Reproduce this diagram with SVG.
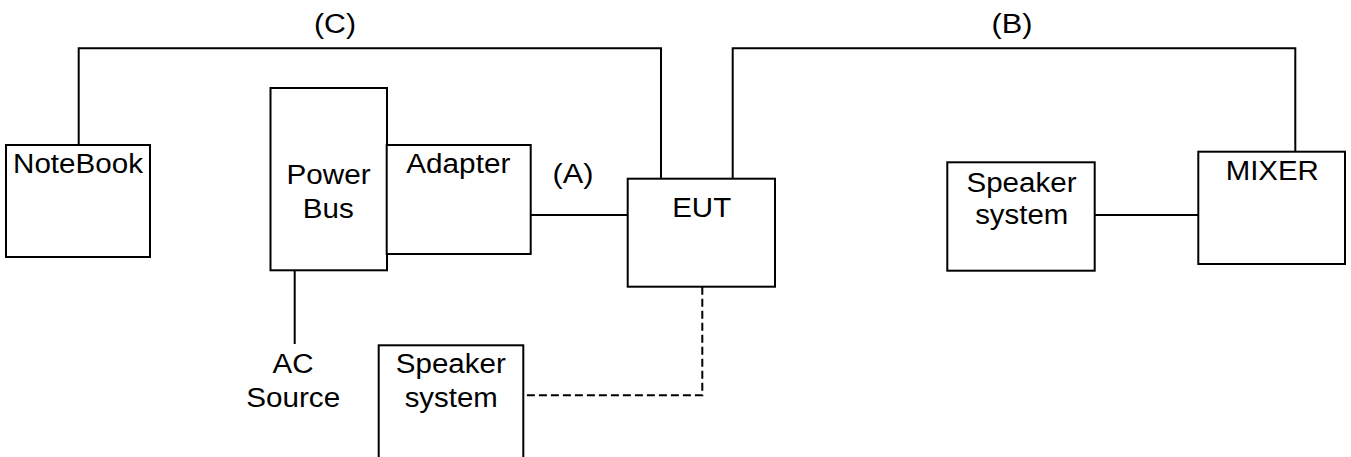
<svg xmlns="http://www.w3.org/2000/svg" width="1351" height="457" viewBox="0 0 1351 457">
<style>
.box{fill:#fff;stroke:#000;stroke-width:2}
.ln{fill:none;stroke:#000;stroke-width:2}
.dash{fill:none;stroke:#000;stroke-width:2;stroke-dasharray:8 4}
text{font-family:"Liberation Sans",Arial,sans-serif;font-size:27px;fill:#000;text-anchor:middle}
</style>
<rect width="1351" height="457" fill="#fff"/>
<g id="connectors">
<path class="ln" d="M78.7 145 V48.3 H661 V178.7"/>
<path class="ln" d="M732.7 178.7 V48.3 H1295.3 V151.7"/>
<path class="ln" d="M530.7 215 H627.7"/>
<path class="ln" d="M294.7 270.3 V344"/>
<path class="ln" d="M1094.7 215 H1198.3"/>
<path class="dash" d="M702.3 286.7 V395.3 H523.3"/>
<text x="335" y="33" textLength="42" lengthAdjust="spacingAndGlyphs">(C)</text>
<text x="1012" y="33" textLength="41" lengthAdjust="spacingAndGlyphs">(B)</text>
<text x="573" y="183" textLength="41" lengthAdjust="spacingAndGlyphs">(A)</text>
</g>
<g id="notebook">
<rect class="box" x="6" y="145" width="144" height="112"/>
<text x="78" y="173" textLength="130" lengthAdjust="spacingAndGlyphs">NoteBook</text>
</g>
<g id="powerbus">
<rect class="box" x="270.5" y="88" width="116.5" height="182.3"/>
<text x="328.5" y="184.3" textLength="84" lengthAdjust="spacingAndGlyphs">Power</text>
<text x="328.3" y="218.3" textLength="51" lengthAdjust="spacingAndGlyphs">Bus</text>
</g>
<g id="adapter">
<rect class="box" x="386.7" y="145" width="144" height="109"/>
<text x="458.3" y="173.3" textLength="104" lengthAdjust="spacingAndGlyphs">Adapter</text>
</g>
<g id="eut">
<rect class="box" x="627.7" y="178.7" width="147.3" height="108"/>
<text x="701.7" y="216.7" textLength="59" lengthAdjust="spacingAndGlyphs">EUT</text>
</g>
<g id="speaker-right">
<rect class="box" x="947.3" y="162.3" width="147.4" height="108.4"/>
<text x="1021.5" y="191.7" textLength="110" lengthAdjust="spacingAndGlyphs">Speaker</text>
<text x="1021.7" y="224.3" textLength="93" lengthAdjust="spacingAndGlyphs">system</text>
</g>
<g id="mixer">
<rect class="box" x="1198.3" y="151.7" width="146.7" height="112.3"/>
<text x="1272.2" y="180" textLength="93" lengthAdjust="spacingAndGlyphs">MIXER</text>
</g>
<g id="ac-source">
<text x="293" y="372.5" textLength="41" lengthAdjust="spacingAndGlyphs">AC</text>
<text x="293.2" y="406.7" textLength="94" lengthAdjust="spacingAndGlyphs">Source</text>
</g>
<g id="speaker-bottom">
<rect class="box" x="378.7" y="345.3" width="144.6" height="125"/>
<text x="450.8" y="373.3" textLength="110" lengthAdjust="spacingAndGlyphs">Speaker</text>
<text x="451.2" y="406.7" textLength="93" lengthAdjust="spacingAndGlyphs">system</text>
</g>
</svg>
